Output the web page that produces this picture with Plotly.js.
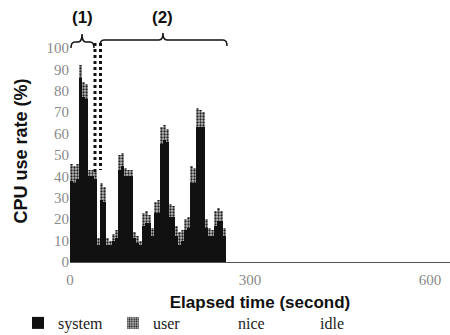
<!DOCTYPE html>
<html>
<head>
<meta charset="utf-8">
<script src="https://cdn.plot.ly/plotly-3.0.1.min.js"></script>
<style>html,body{margin:0;padding:0;background:#fff;}#chart{width:450px;height:335px;}</style>
</head>
<body>
<div id="chart"></div>
<script>
// Elapsed time (s), sampled every 5 s
var timeSec = [0,5,10,15,20,25,30,35,40,45,50,55,60,65,70,75,80,85,90,95,100,105,110,115,120,125,130,135,140,145,150,155,160,165,170,175,180,185,190,195,200,205,210,215,220,225,230,235,240,245,250,255];
// total CPU use (system + user), %
var totalUse = [46,45,46,92,84,83,43,43,42,11,37,35,11,10,13,15,50,51,44,43,43,14,12,10,23,24,22,16,28,29,63,64,62,27,26,17,14,15,20,21,45,44,72,71,70,20,16,15,24,25,24,16];
// user share, %
var userUse = [8,8,7,6,7,7,3,3,3,3,8,7,3,2,3,4,7,6,4,3,3,3,3,2,6,6,4,4,5,6,8,7,6,6,5,5,6,5,5,5,8,7,9,8,7,4,4,3,7,6,5,4];
var systemUse = totalUse.map(function(v,i){return v - userUse[i];});
var niceUse = timeSec.map(function(){return 0;});
var idleUse = totalUse.map(function(v){return 100 - v;});

var xTicks = [0,300,600];
var yTicks = [0,10,20,30,40,50,60,70,80,90,100];

var xc = timeSec.map(function(t){return t + 2.5;});

var traces = [
  {type:'bar', name:'system', x:xc, y:systemUse, width:5, legend:'legend',
   marker:{color:'#111', line:{width:0}}},
  {type:'bar', name:'user', x:xc, y:userUse, width:5, legend:'legend2',
   marker:{color:'#9a9a9a', line:{width:0},
     pattern:{shape:'.', fgcolor:'#222', bgcolor:'#bdbdbd', size:3, solidity:0.45}}},
  {type:'bar', name:'nice', x:xc, y:niceUse, width:5, legend:'legend3',
   marker:{color:'#fff', line:{width:0}}},
  {type:'bar', name:'idle', x:xc, y:idleUse, width:5, legend:'legend4',
   marker:{color:'#fff', line:{width:0}}}
];

// helpers: pixel -> paper
var L=70, R=450, T=40, B=262;
function px(x){return +((x-L)/(R-L)).toFixed(4);}
function py(y){return +((B-y)/(B-T)).toFixed(4);}
function brace(x1,x2,xm,yb,ym,yt){
  var r=4;
  return 'M'+px(x1)+','+py(yb)+' Q'+px(x1)+','+py(ym)+' '+px(x1+r)+','+py(ym)+
    ' L'+px(xm-r)+','+py(ym)+' Q'+px(xm)+','+py(ym)+' '+px(xm)+','+py(yt)+
    ' Q'+px(xm)+','+py(ym)+' '+px(xm+r)+','+py(ym)+
    ' L'+px(x2-r)+','+py(ym)+' Q'+px(x2)+','+py(ym)+' '+px(x2)+','+py(yb);
}
var legFont = {family:'Liberation Serif, serif', size:16, color:'#222'};
function leg(left){
  return {orientation:'h', x:px(left - 40), xanchor:'left', y:py(306), yanchor:'top',
    bgcolor:'rgba(0,0,0,0)', font:legFont};
}
var boldFont = function(s){return {family:'Liberation Sans, Arial, sans-serif', size:s, color:'#111', weight:'bold'};};

var layout = {
  width:450, height:335,
  margin:{l:L, r:0, t:T, b:335-B, autoexpand:false},
  paper_bgcolor:'#fff', plot_bgcolor:'#fff',
  barmode:'stack', bargap:0,
  showlegend:true,
  legend:leg(58), legend2:leg(153), legend3:leg(238), legend4:leg(320),
  xaxis:{range:[0,633.3], tickvals:xTicks, ticktext:xTicks.map(String), automargin:false,
    showgrid:false, zeroline:false, showline:true, linecolor:'#555', linewidth:1,
    ticks:'', ticklabelstandoff:4, tickfont:{family:'Liberation Serif, serif', size:15, color:'#8a8a8a'},
    title:{text:'Elapsed time (second)', standoff:9, font:boldFont(17)}},
  yaxis:{range:[0,103.7], tickvals:yTicks, ticktext:yTicks.map(String), automargin:false,
    showgrid:false, zeroline:false, showline:false, ticks:'',
    tickfont:{family:'Liberation Serif, serif', size:15, color:'#8a8a8a'},
    title:{text:'CPU use rate (%)', standoff:14, font:boldFont(18)}},
  shapes:[
    {type:'path', xref:'paper', yref:'paper', path:brace(71,94,82,48,42,34), line:{color:'#111', width:1.5}},
    {type:'path', xref:'paper', yref:'paper', path:brace(100,227,163,46,40,33), line:{color:'#111', width:1.5}},
    {type:'line', xref:'paper', yref:'paper', x0:px(95), x1:px(95), y0:py(43), y1:py(175), line:{color:'#111', width:3, dash:'dot'}},
    {type:'line', xref:'paper', yref:'paper', x0:px(100.5), x1:px(100.5), y0:py(43), y1:py(170), line:{color:'#111', width:3, dash:'dot'}}
  ],
  annotations:[
    {xref:'paper', yref:'paper', x:px(82), y:py(17), yanchor:'middle', xanchor:'center', text:'(1)', showarrow:false, font:boldFont(17)},
    {xref:'paper', yref:'paper', x:px(163), y:py(17), yanchor:'middle', xanchor:'center', text:'(2)', showarrow:false, font:boldFont(17)}
  ]
};

Plotly.newPlot('chart', traces, layout, {displayModeBar:false, staticPlot:true});
</script>
</body>
</html>
